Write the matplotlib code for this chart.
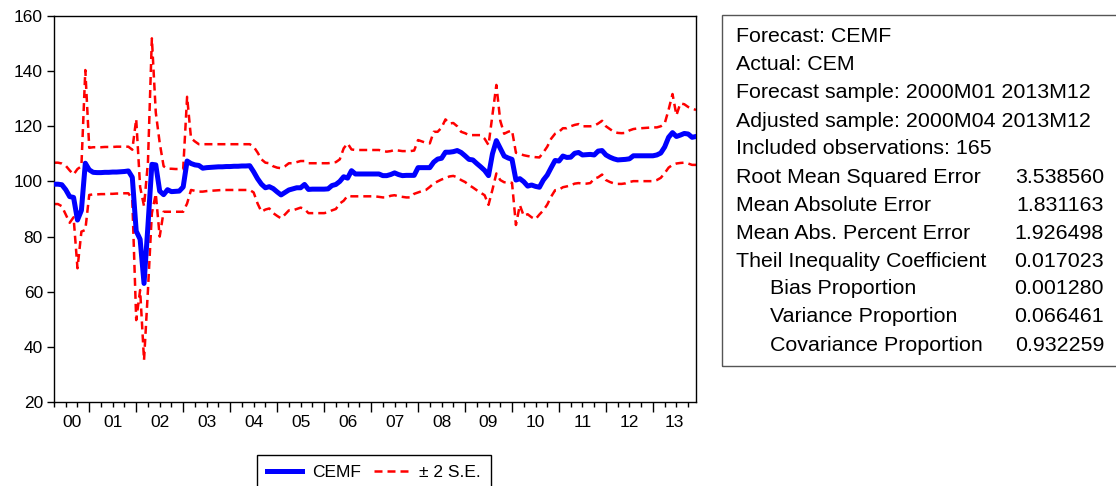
import numpy as np
import matplotlib
matplotlib.use("Agg")
import matplotlib.pyplot as plt
from matplotlib.patches import Rectangle
from matplotlib.ticker import FixedLocator, NullFormatter

plt.rcParams['font.family'] = ['Liberation Sans', 'DejaVu Sans']

# monthly forecast, 2000M04 .. 2013M12 (165 obs), one row per year
cemf = [
    99.0, 99.0, 98.8, 97.0, 94.5, 94.2, 86.0, 89.5, 106.6,                          # 2000
    104.2, 103.3, 103.2, 103.2, 103.3, 103.3, 103.4, 103.4, 103.5, 103.6, 103.8, 101.5,  # 2001
    82.0, 79.0, 63.0, 84.0, 106.2, 106.0, 96.5, 95.2, 97.0, 96.3, 96.4, 96.5,        # 2002
    98.0, 107.4, 106.5, 106.0, 105.8, 104.8, 105.0, 105.1, 105.2, 105.3, 105.3, 105.4,  # 2003
    105.4, 105.5, 105.5, 105.6, 105.6, 105.7, 103.5, 101.0, 99.0, 97.7, 98.1, 97.4,  # 2004
    96.2, 95.1, 96.0, 96.9, 97.3, 97.7, 97.7, 98.9, 97.1, 97.2, 97.2, 97.2,          # 2005
    97.2, 97.3, 98.5, 98.9, 100.0, 101.7, 101.2, 103.9, 102.7, 102.7, 102.7, 102.7,  # 2006
    102.7, 102.7, 102.7, 102.1, 102.1, 102.5, 103.1, 102.5, 102.1, 102.2, 102.2, 102.2,  # 2007
    105.0, 105.0, 105.0, 105.0, 107.0, 108.1, 108.4, 110.6, 110.6, 110.8, 111.2, 110.5,  # 2008
    109.3, 108.0, 107.8, 106.5, 105.3, 104.0, 102.1, 110.0, 114.8, 112.0, 109.2, 108.5,  # 2009
    108.0, 100.5, 101.0, 99.9, 98.3, 98.7, 98.2, 97.9, 100.5, 102.3, 105.0, 107.6,   # 2010
    107.4, 109.2, 108.7, 108.8, 110.2, 110.5, 109.6, 109.7, 109.8, 109.6, 111.0, 111.2,  # 2011
    109.6, 108.8, 108.2, 107.8, 107.9, 108.0, 108.2, 109.3, 109.3, 109.3, 109.3, 109.3,  # 2012
    109.3, 109.6, 110.3, 112.5, 116.0, 117.7, 116.3, 116.8, 117.4, 117.2, 116.0, 116.3,  # 2013
]

upper = [
    106.8, 106.8, 106.5, 105.7, 104.0, 102.5, 104.5, 105.5, 140.4,
    112.2, 112.4, 112.4, 112.4, 112.5, 112.5, 112.5, 112.6, 112.6, 112.6, 112.6, 111.5,
    122.6, 98.0, 91.0, 107.0, 151.9, 125.0, 114.0, 105.5, 104.6, 104.6, 104.5, 104.5,
    104.5, 130.7, 115.7, 114.5, 113.5, 113.5, 113.5, 113.5, 113.5, 113.5, 113.5, 113.5,
    113.5, 113.5, 113.5, 113.5, 113.5, 113.5, 112.6, 110.5, 108.0, 106.8, 106.6, 105.5,
    105.0, 104.8, 105.5, 106.6, 106.6, 107.0, 107.4, 107.4, 106.6, 106.6, 106.6, 106.6,
    106.6, 106.6, 106.8, 107.0, 108.0, 112.0, 113.8, 111.6, 111.4, 111.4, 111.4, 111.4,
    111.4, 111.4, 111.4, 111.0, 110.8, 111.0, 111.4, 111.2, 111.0, 111.0, 111.0, 111.2,
    115.0, 114.5, 114.0, 113.8, 118.0, 118.0, 119.5, 122.5, 121.0, 121.2, 120.0, 118.0,
    117.5, 116.8, 116.8, 116.8, 116.8, 115.5, 113.2, 124.0, 135.0, 122.0, 117.3, 118.0,
    118.5, 110.4, 110.0, 109.5, 109.2, 109.0, 108.8, 108.7, 110.5, 112.6, 115.5, 117.3,
    118.0, 119.3, 119.3, 120.0, 120.5, 120.8, 120.0, 120.0, 120.0, 120.2, 121.0, 122.0,
    120.0, 119.0, 118.0, 117.6, 117.5, 117.6, 118.5, 119.0, 119.2, 119.3, 119.4, 119.5,
    119.6, 119.6, 120.0, 121.0, 126.0, 131.7, 124.0, 128.3, 128.0, 127.0, 126.5, 125.9,
]

lower = [
    91.8, 91.8, 91.0, 88.0, 85.0, 87.0, 68.5, 81.8, 82.4,
    95.1, 95.3, 95.3, 95.4, 95.4, 95.5, 95.5, 95.6, 95.6, 95.7, 95.7, 93.5,
    49.7, 60.6, 35.2, 60.6, 88.5, 95.5, 80.0, 89.0, 89.0, 89.0, 89.0, 89.0,
    89.0, 92.0, 96.9, 96.6, 96.3, 96.3, 96.5, 96.6, 96.7, 96.8, 96.9, 96.9,
    96.9, 96.9, 96.9, 96.9, 96.9, 96.9, 96.0, 92.0, 89.0, 89.8, 90.2, 88.5,
    87.5, 86.6, 88.0, 89.5, 89.5, 90.0, 90.5, 90.0, 88.5, 88.5, 88.5, 88.5,
    88.5, 88.8, 89.5, 90.0, 92.0, 93.0, 94.8, 94.6, 94.6, 94.6, 94.6, 94.6,
    94.6, 94.6, 94.4, 94.2, 94.2, 94.8, 95.0, 94.6, 94.4, 94.2, 94.2, 95.5,
    96.0, 96.5, 96.9, 98.0, 99.3, 100.0, 100.7, 101.2, 101.8, 102.0, 101.5, 100.5,
    99.8, 98.7, 97.8, 96.8, 95.9, 95.0, 91.5, 97.0, 102.9, 100.5, 99.7, 99.7,
    99.5, 84.2, 91.4, 87.5, 88.1, 87.0, 86.3, 88.0, 89.5, 91.6, 94.5, 96.8,
    97.0, 97.9, 98.2, 98.6, 99.2, 99.4, 99.2, 99.2, 99.4, 101.0, 101.5, 102.5,
    100.5, 99.8, 99.3, 99.1, 99.1, 99.3, 99.8, 100.1, 100.1, 100.1, 100.1, 100.1,
    100.1, 100.5, 101.3, 103.0, 105.0, 106.0, 106.5, 106.7, 106.8, 106.5, 106.0, 106.0,
]

year_labels = ['00', '01', '02', '03', '04', '05', '06', '07', '08', '09', '10', '11', '12', '13']

stat_rows = [
    ("Forecast: CEMF", "", 0),
    ("Actual: CEM", "", 0),
    ("Forecast sample: 2000M01 2013M12", "", 0),
    ("Adjusted sample: 2000M04 2013M12", "", 0),
    ("Included observations: 165", "", 0),
    ("Root Mean Squared Error", "3.538560", 0),
    ("Mean Absolute Error", "1.831163", 0),
    ("Mean Abs. Percent Error", "1.926498", 0),
    ("Theil Inequality Coefficient", "0.017023", 0),
    ("Bias Proportion", "0.001280", 1),
    ("Variance Proportion", "0.066461", 1),
    ("Covariance Proportion", "0.932259", 1),
]

W, H = 1116, 486
fig = plt.figure(figsize=(W / 100, H / 100), dpi=100)
ax = fig.add_axes([54 / W, 1 - 402 / H, (696 - 54) / W, (402 - 16) / H])

t = np.arange(len(cemf))
ax.plot(t, cemf, color='#0000ff', lw=3.6, label='CEMF', solid_joinstyle='round', zorder=3)
ax.plot(t, upper, color='#ff0000', lw=1.8, dashes=(3.2, 2.0), label='\u00b1 2 S.E.', zorder=2)
ax.plot(t, lower, color='#ff0000', lw=1.8, dashes=(3.2, 2.0), zorder=2)

ax.set_xlim(0, 164)
ax.set_ylim(20, 160)
ax.set_yticks(np.arange(20, 161, 20))

# year boundaries (January) as major ticks, quarters as minor ticks
jan = list(range(9, 165, 12))
quarters = [q for q in range(0, 165, 3) if q not in jan]
ax.xaxis.set_major_locator(FixedLocator(jan))
ax.xaxis.set_major_formatter(NullFormatter())
ax.xaxis.set_minor_locator(FixedLocator(quarters))
edges = [0] + jan + [164]
for k, lab in enumerate(year_labels):
    ax.text((edges[k] + edges[k + 1]) / 2, -0.053, lab, transform=ax.get_xaxis_transform(),
            ha='center', va='center', fontsize=12.5)

ax.tick_params(axis='x', which='major', direction='out', length=7, width=1)
ax.tick_params(axis='x', which='minor', direction='out', length=3.5, width=1)
ax.tick_params(axis='y', direction='out', length=5, width=1, labelsize=12.5, pad=3)
for s in ax.spines.values():
    s.set_linewidth(1.0)

leg = ax.legend(loc='upper center', bbox_to_anchor=(374 / W, 1 - 455 / H),
                bbox_transform=fig.transFigure, ncol=2, fontsize=12.5, frameon=True,
                fancybox=False, edgecolor='black', framealpha=1, handlelength=2.0,
                columnspacing=0.75, handletextpad=0.6, borderpad=0.55, borderaxespad=0)
leg.get_frame().set_linewidth(1.0)

# statistics box
fig.patches.append(Rectangle((722 / W, 1 - 366 / H), 500 / W, (366 - 15) / H,
                             transform=fig.transFigure, fill=False, edgecolor='#555555', lw=1.0))
for k, (label, value, indent) in enumerate(stat_rows):
    y = 1 - (37 + 28 * k) / H
    x = (770 if indent else 736) / W
    fig.text(x, y, label, ha='left', va='center', fontsize=15.4)
    if value:
        fig.text(1104 / W, y, value, ha='right', va='center', fontsize=15.4)

fig.savefig('out.png', dpi=100)
